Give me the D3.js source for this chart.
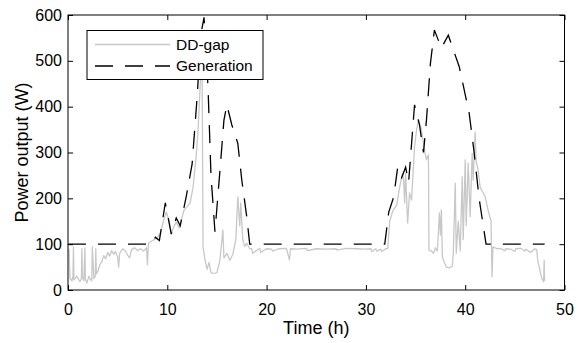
<!DOCTYPE html>
<html>
<head>
<meta charset="utf-8">
<script src="https://cdn.jsdelivr.net/npm/d3@7"></script>
<style>
body { margin:0; background:#fff; }
svg { display:block; font-family:"Liberation Sans", Arial, Helvetica, sans-serif; }
</style>
</head>
<body>
<svg></svg>
<script>
var screen = {width:579,height:343}
var margins = {top:15,right:14.5,bottom:53,left:68}

// series names for the legend
var seriesNames = ["DD-gap","Generation"]

// tick labels
var xTicks = [0,10,20,30,40,50]
var yTicks = [0,100,200,300,400,500,600]

// Generation (dashed black), time in h, power in W
var genTime  = [0,8.4,8.8,9.2,9.8,10.4,10.9,11.3,11.9,12.5,13.0,13.4,13.7,14.1,14.4,14.8,15.3,15.7,16.0,16.5,17.1,17.5,18.0,18.3,
                31.9,32.3,32.8,33.2,33.6,34.0,34.3,34.9,35.4,35.8,36.1,36.5,36.9,37.6,38.3,39.4,40.4,40.9,41.4,42.1,48.0]
var genPower = [100,100,115,108,190,122,157,140,203,275,420,560,595,443,250,127,260,370,404,360,320,240,160,100,
                100,170,203,268,245,268,235,404,360,300,371,495,567,528,556,487,386,300,200,100,100]

// DD-gap (light grey), time in h, power in W
var gapTime  = [0.1,0.2,0.4,0.5,0.55,0.6,0.9,1.2,1.35,1.4,1.45,1.6,1.7,1.75,1.9,2.1,2.3,2.4,2.45,2.6,2.75,2.8,2.85,3.0,3.2,3.4,3.6,3.8,4.0,4.2,4.4,4.6,4.8,5.0,5.1,5.2,5.5,5.8,6.0,6.2,6.4,6.7,7.0,7.3,7.6,7.9,8.0,8.1,8.5,8.9,9.3,9.6,9.9,
                10.2,10.4,10.7,10.9,11.2,11.5,11.7,12.0,12.3,12.6,12.9,13.1,13.3,13.5,13.6,13.8,14.0,14.2,14.4,14.7,15.0,15.3,15.6,15.7,16.0,16.3,16.6,16.9,17.1,17.3,17.4,17.6,17.8,18.0,18.3,
                18.5,18.6,19.3,19.4,20.0,20.5,20.6,21.2,22.0,22.3,22.4,23.0,24.0,24.1,25.0,26.0,27.0,27.1,28.0,29.0,30.0,30.5,30.6,31.0,31.1,31.5,31.6,32.0,32.2,
                32.4,32.7,33.1,33.4,33.7,33.8,33.9,34.0,34.2,34.4,34.6,34.9,35.1,35.3,35.6,35.9,36.1,36.3,36.35,36.6,36.8,37.0,37.2,37.4,37.5,37.6,37.7,37.9,38.1,38.4,38.7,38.8,
                39.0,39.1,39.3,39.5,39.7,39.8,40.0,40.1,40.3,40.5,40.7,40.8,41.0,41.1,41.3,41.5,41.8,42.0,42.3,42.6,42.7,42.8,
                43.2,43.5,44.0,44.1,44.6,45.0,45.1,45.6,46.0,46.1,46.6,47.0,47.2,47.3,47.5,47.7,47.9,47.95,48.0]
var gapPower = [90,25,20,30,94,22,30,18,25,90,28,20,92,24,15,30,22,20,94,25,30,90,35,40,55,62,75,68,82,74,86,78,84,72,50,80,90,85,76,70,88,92,86,90,85,92,55,102,108,112,124,150,170,
                150,124,140,148,135,160,175,182,190,225,290,350,440,520,94,65,45,60,38,36,38,65,131,70,80,65,78,110,203,140,190,110,95,102,90,
                90,80,91,82,90,89,85,90,91,65,90,89,91,86,90,89,90,87,91,90,89,90,84,90,85,89,84,90,91,
                150,172,185,225,255,240,190,255,146,212,196,312,349,371,349,305,284,295,87,85,80,92,85,168,120,175,72,60,50,48,52,80,
                233,80,150,85,247,110,284,140,277,160,298,240,345,280,262,225,212,205,175,150,29,94,
                90,91,86,90,89,84,90,91,85,89,82,90,88,65,45,26,18,65,20]

var width = screen.width - margins.left - margins.right
var height = screen.height - margins.top - margins.bottom

var svg = d3.select("svg")
    .attr("width",screen.width)
    .attr("height",screen.height)

var xScale = d3.scaleLinear()
    .domain([0,50])
    .range([0,width])

var yScale = d3.scaleLinear()
    .domain([0,600])
    .range([height,0])

var graph = svg.append("g")
    .attr("id","graph")
    .attr("transform","translate("+margins.left+","+margins.top+")")

graph.append("clipPath")
    .attr("id","plotClip")
    .append("rect")
    .attr("width",width)
    .attr("height",height)

var line = d3.line()
    .x(function(d){return xScale(d[0])})
    .y(function(d){return yScale(d[1])})

var gapData = gapTime.map(function(t,i){return [t,gapPower[i]]})
var genData = genTime.map(function(t,i){return [t,genPower[i]]})

//grey DD-gap first, generation on top
graph.append("path")
    .datum(gapData)
    .attr("clip-path","url(#plotClip)")
    .attr("fill","none")
    .attr("stroke","#c8c8c8")
    .attr("stroke-width",1.3)
    .attr("stroke-linejoin","round")
    .attr("d",line)

graph.append("path")
    .datum(genData)
    .attr("clip-path","url(#plotClip)")
    .attr("fill","none")
    .attr("stroke","#000")
    .attr("stroke-width",1.3)
    .attr("stroke-dasharray","18,12")
    .attr("d",line)

//axes, ticks inside like matlab
var xAxis = d3.axisBottom(xScale).tickValues(xTicks).tickSizeInner(-5).tickSizeOuter(0).tickPadding(13.5)
var yAxis = d3.axisLeft(yScale).tickValues(yTicks).tickSizeInner(-5).tickSizeOuter(0).tickPadding(6)
var xTop = d3.axisTop(xScale).tickValues(xTicks).tickSizeInner(-5).tickSizeOuter(0).tickFormat("")
var yRight = d3.axisRight(yScale).tickValues(yTicks).tickSizeInner(-5).tickSizeOuter(0).tickFormat("")

var gx = graph.append("g").attr("transform","translate(0,"+height+")").call(xAxis)
var gy = graph.append("g").call(yAxis)
var gt = graph.append("g").call(xTop)
var gr = graph.append("g").attr("transform","translate("+width+",0)").call(yRight)

graph.selectAll(".domain").remove()
graph.selectAll(".tick line").attr("stroke","#000").attr("stroke-width",1)
graph.selectAll(".tick text")
    .attr("fill","#000")
    .style("font-size","16px")
    .style("font-family","'Liberation Sans', Arial, sans-serif")

graph.append("rect")
    .attr("width",width)
    .attr("height",height)
    .attr("fill","none")
    .attr("stroke","#000")
    .attr("stroke-width",1)

//axis labels
svg.append("text")
    .attr("x",margins.left+width/2)
    .attr("y",334)
    .attr("text-anchor","middle")
    .style("font-size","18px")
    .text("Time (h)")

svg.append("text")
    .attr("transform","translate(28,"+(margins.top+height/2)+") rotate(-90)")
    .attr("text-anchor","middle")
    .style("font-size","18px")
    .text("Power output (W)")

//legend
var legend = svg.append("g").attr("transform","translate(87,30.5)")
legend.append("rect")
    .attr("width",176)
    .attr("height",49)
    .attr("fill","#fff")
    .attr("stroke","#000")
    .attr("stroke-width",1)

var legendStyles = [{stroke:"#c8c8c8",dash:null},{stroke:"#000",dash:"18,12"}]
var items = legend.selectAll(".item")
    .data(seriesNames)
    .enter()
    .append("g")
    .attr("class","item")
    .attr("transform",function(d,i){return "translate(0,"+(14+i*21.5)+")"})

items.append("line")
    .attr("x1",8)
    .attr("x2",83)
    .attr("stroke",function(d,i){return legendStyles[i].stroke})
    .attr("stroke-width",1.3)
    .attr("stroke-dasharray",function(d,i){return legendStyles[i].dash})

items.append("text")
    .attr("x",89)
    .attr("dy","0.35em")
    .style("font-size","15.5px")
    .text(function(d){return d})
</script>
</body>
</html>
